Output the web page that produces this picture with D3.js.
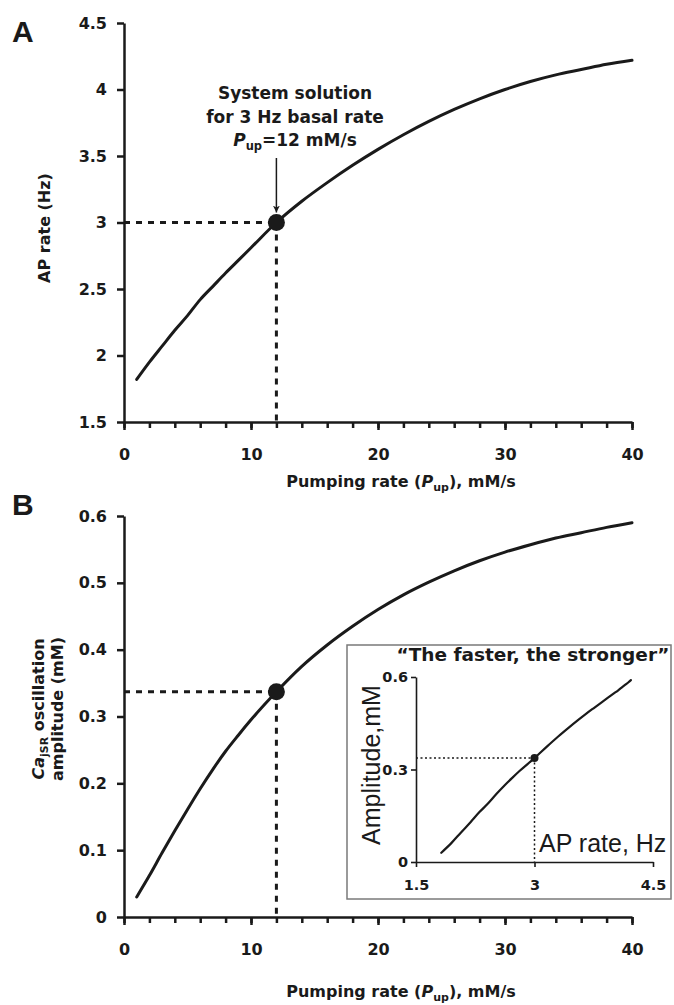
<!DOCTYPE html>
<html>
<head>
<meta charset="utf-8">
<script src="https://cdn.jsdelivr.net/npm/d3@7"></script>
<style>
  html, body { margin: 0; padding: 0; background: #fff; }
  svg { display: block; }
  .bold { font-family: "DejaVu Sans", sans-serif; font-weight: bold; fill: #1a1a1a; }
</style>
</head>
<body>
<svg id="chart" width="674" height="1005"></svg>
<script>
// ---------------- data ----------------
const pumpRates = [1, 2, 3, 4, 5, 6, 7, 8, 9, 10, 12, 14, 16, 18, 20, 22, 24, 26, 28, 30, 32, 34, 36, 38, 40];
const apRate    = [1.82, 1.95, 2.07, 2.19, 2.30, 2.42, 2.52, 2.62, 2.715, 2.81, 3.0, 3.16, 3.3, 3.43, 3.55, 3.66, 3.76, 3.85, 3.93, 4.0, 4.06, 4.11, 4.15, 4.19, 4.22];
const amplitude = [0.03, 0.062, 0.096, 0.129, 0.161, 0.192, 0.221, 0.248, 0.272, 0.295, 0.337, 0.375, 0.407, 0.435, 0.46, 0.482, 0.501, 0.518, 0.533, 0.546, 0.557, 0.567, 0.575, 0.583, 0.59];

const solutionPump = 12;
const solutionRate = 3.0;
const solutionAmp = 0.337;

const xTicksMain = [0, 10, 20, 30, 40];
const xMinorTicks = [0, 2, 4, 6, 8, 10, 12, 14, 16, 18, 20, 22, 24, 26, 28, 30, 32, 34, 36, 38, 40];
const yTicksA = [1.5, 2, 2.5, 3, 3.5, 4, 4.5];
const yTicksB = [0, 0.1, 0.2, 0.3, 0.4, 0.5, 0.6];
const xTicksInset = [1.5, 3, 4.5];
const yTicksInset = [0, 0.3, 0.6];

// ---------------- setup ----------------
const svg = d3.select("#chart");
const ink = "#1a1a1a";

const xA = d3.scaleLinear([0, 40], [124, 632]);
const yA = d3.scaleLinear([1.5, 4.5], [422, 23]);
const xB = d3.scaleLinear([0, 40], [124, 632]);
const yB = d3.scaleLinear([0, 0.6], [917, 516]);
const xI = d3.scaleLinear([1.5, 4.5], [416, 653]);
const yI = d3.scaleLinear([0, 0.6], [862, 677]);

function styleAxis(g, width, fontSize) {
  g.select(".domain").attr("stroke", ink).attr("stroke-width", width);
  g.selectAll(".tick line").attr("stroke", ink).attr("stroke-width", width);
  g.selectAll(".tick text")
    .attr("fill", ink)
    .style("font-family", "'DejaVu Sans', sans-serif")
    .style("font-weight", "bold")
    .style("font-size", fontSize + "px");
}

function fmt(v) { return String(v); }

function mainAxes(x, y, yTicks, xAxisY) {
  svg.append("g")
    .attr("transform", `translate(0,${xAxisY})`)
    .call(d3.axisBottom(x).tickValues(xMinorTicks).tickSize(6).tickSizeOuter(0).tickFormat(""))
    .call(g => styleAxis(g, 2.5, 16));
  svg.append("g")
    .attr("transform", `translate(0,${xAxisY})`)
    .call(d3.axisBottom(x).tickValues(xTicksMain).tickSize(8).tickSizeOuter(0).tickPadding(18.5).tickFormat(fmt))
    .call(g => styleAxis(g, 2.5, 16))
    .call(g => g.select(".domain").remove());
  svg.append("g")
    .attr("transform", `translate(${x(0)},0)`)
    .call(d3.axisLeft(y).tickValues(yTicks).tickSize(7).tickSizeOuter(0).tickPadding(10).tickFormat(fmt))
    .call(g => styleAxis(g, 2.5, 16));
}

function pupTitle(cx, baseline) {
  const t = svg.append("text").attr("class", "bold")
    .attr("x", cx).attr("y", baseline)
    .attr("text-anchor", "middle")
    .style("font-size", "16px");
  t.append("tspan").text("Pumping rate (");
  t.append("tspan").style("font-style", "italic").text("P");
  t.append("tspan").attr("dy", 4).style("font-size", "11px").text("up");
  t.append("tspan").attr("dy", -4).text("), mM/s");
}

const line = (x, y) => d3.line().x(d => x(d[0])).y(d => y(d[1])).curve(d3.curveMonotoneX);

// ---------------- Panel A ----------------
svg.append("text").attr("x", 12).attr("y", 42)
  .style("font-family", "'Liberation Sans', Arial, sans-serif").style("font-weight", "bold")
  .style("font-size", "30px").attr("fill", ink).text("A");

mainAxes(xA, yA, yTicksA, 422);

svg.append("text").attr("class", "bold")
  .attr("transform", "translate(50,228) rotate(-90)")
  .attr("text-anchor", "middle").style("font-size", "16px")
  .text("AP rate (Hz)");

pupTitle(401, 487);

const dataA = pumpRates.map((p, i) => [p, apRate[i]]);
svg.append("path").datum(dataA)
  .attr("d", line(xA, yA)).attr("fill", "none")
  .attr("stroke", ink).attr("stroke-width", 3).attr("stroke-linecap", "round");

svg.append("line")
  .attr("x1", xA(0)).attr("x2", xA(solutionPump))
  .attr("y1", yA(solutionRate)).attr("y2", yA(solutionRate))
  .attr("stroke", ink).attr("stroke-width", 3).attr("stroke-dasharray", "6,6");
svg.append("line")
  .attr("x1", xA(solutionPump)).attr("x2", xA(solutionPump))
  .attr("y1", yA(solutionRate)).attr("y2", yA(1.5))
  .attr("stroke", ink).attr("stroke-width", 3).attr("stroke-dasharray", "6,6");
svg.append("circle")
  .attr("cx", xA(solutionPump)).attr("cy", yA(solutionRate)).attr("r", 8.5).attr("fill", ink);

// annotation
const annX = 295;
const ann = svg.append("text").attr("class", "bold").attr("text-anchor", "middle").style("font-size", "17px");
ann.append("tspan").attr("x", annX).attr("y", 99).text("System solution");
ann.append("tspan").attr("x", annX).attr("y", 123).text("for 3 Hz basal rate");
const ann3 = svg.append("text").attr("class", "bold").attr("text-anchor", "middle")
  .attr("x", annX).attr("y", 146).style("font-size", "17px");
ann3.append("tspan").style("font-style", "italic").text("P");
ann3.append("tspan").attr("dy", 4).style("font-size", "11.5px").text("up");
ann3.append("tspan").attr("dy", -4).text("=12 mM/s");

svg.append("defs").append("marker")
  .attr("id", "arrowhead").attr("viewBox", "0 0 10 10")
  .attr("refX", 10).attr("refY", 5)
  .attr("markerWidth", 7).attr("markerHeight", 7)
  .attr("markerUnits", "userSpaceOnUse")
  .attr("orient", "auto")
  .append("path").attr("d", "M0,0 L10,5 L0,10 L3,5 Z").attr("fill", ink);
svg.append("line")
  .attr("x1", xA(solutionPump)).attr("x2", xA(solutionPump))
  .attr("y1", 158).attr("y2", yA(solutionRate) - 10)
  .attr("stroke", ink).attr("stroke-width", 1.5)
  .attr("marker-end", "url(#arrowhead)");

// ---------------- Panel B ----------------
svg.append("text").attr("x", 12).attr("y", 515)
  .style("font-family", "'Liberation Sans', Arial, sans-serif").style("font-weight", "bold")
  .style("font-size", "30px").attr("fill", ink).text("B");

mainAxes(xB, yB, yTicksB, 917);

const yt1 = svg.append("text").attr("class", "bold")
  .attr("transform", "translate(44,709) rotate(-90)")
  .attr("text-anchor", "middle").style("font-size", "16px");
yt1.append("tspan").style("font-style", "italic").text("Ca");
yt1.append("tspan").attr("dy", 4).style("font-size", "11px").style("font-style", "normal").text("jSR");
yt1.append("tspan").attr("dy", -4).text(" oscillation");
svg.append("text").attr("class", "bold")
  .attr("transform", "translate(63,709) rotate(-90)")
  .attr("text-anchor", "middle").style("font-size", "16px")
  .text("amplitude (mM)");

pupTitle(401, 997);

const dataB = pumpRates.map((p, i) => [p, amplitude[i]]);
svg.append("path").datum(dataB)
  .attr("d", line(xB, yB)).attr("fill", "none")
  .attr("stroke", ink).attr("stroke-width", 3).attr("stroke-linecap", "round");

svg.append("line")
  .attr("x1", xB(0)).attr("x2", xB(solutionPump))
  .attr("y1", yB(solutionAmp)).attr("y2", yB(solutionAmp))
  .attr("stroke", ink).attr("stroke-width", 3).attr("stroke-dasharray", "6,6");
svg.append("line")
  .attr("x1", xB(solutionPump)).attr("x2", xB(solutionPump))
  .attr("y1", yB(solutionAmp)).attr("y2", yB(0))
  .attr("stroke", ink).attr("stroke-width", 3).attr("stroke-dasharray", "6,6");
svg.append("circle")
  .attr("cx", xB(solutionPump)).attr("cy", yB(solutionAmp)).attr("r", 8.5).attr("fill", ink);

// ---------------- Inset ----------------
svg.append("rect")
  .attr("x", 347).attr("y", 645).attr("width", 324).attr("height", 254)
  .attr("fill", "#fff").attr("stroke", "#7a7a7a").attr("stroke-width", 1.5);

svg.append("g")
  .attr("transform", `translate(0,${yI(0)})`)
  .call(d3.axisBottom(xI).tickValues(xTicksInset).tickSize(5).tickSizeOuter(0).tickPadding(12.5).tickFormat(fmt))
  .call(g => styleAxis(g, 1.6, 14.5));
svg.append("g")
  .attr("transform", `translate(${xI(1.5)},0)`)
  .call(d3.axisLeft(yI).tickValues(yTicksInset).tickSize(5).tickSizeOuter(0).tickPadding(3).tickFormat(fmt))
  .call(g => styleAxis(g, 1.6, 14.5));

svg.append("text").attr("class", "bold")
  .attr("x", 533).attr("y", 661).attr("text-anchor", "middle")
  .style("font-size", "18.5px")
  .text("\u201CThe faster, the stronger\u201D");

svg.append("text")
  .attr("transform", "translate(380,765) rotate(-90)")
  .attr("text-anchor", "middle")
  .style("font-family", "'Liberation Sans', Arial, sans-serif")
  .style("font-size", "25px").attr("fill", ink)
  .text("Amplitude,mM");

svg.append("text")
  .attr("x", 539).attr("y", 852)
  .style("font-family", "'Liberation Sans', Arial, sans-serif")
  .style("font-size", "25px").attr("fill", ink)
  .text("AP rate, Hz");

const dataI = apRate.map((r, i) => [r, amplitude[i]]);
svg.append("path").datum(dataI)
  .attr("d", line(xI, yI)).attr("fill", "none")
  .attr("stroke", ink).attr("stroke-width", 2.2).attr("stroke-linecap", "round");

svg.append("line")
  .attr("x1", xI(1.5)).attr("x2", xI(solutionRate))
  .attr("y1", yI(solutionAmp)).attr("y2", yI(solutionAmp))
  .attr("stroke", ink).attr("stroke-width", 1.5).attr("stroke-dasharray", "2,2.5");
svg.append("line")
  .attr("x1", xI(solutionRate)).attr("x2", xI(solutionRate))
  .attr("y1", yI(solutionAmp)).attr("y2", yI(0))
  .attr("stroke", ink).attr("stroke-width", 1.5).attr("stroke-dasharray", "2,2.5");
svg.append("circle")
  .attr("cx", xI(solutionRate)).attr("cy", yI(solutionAmp)).attr("r", 4).attr("fill", ink);
</script>
</body>
</html>
